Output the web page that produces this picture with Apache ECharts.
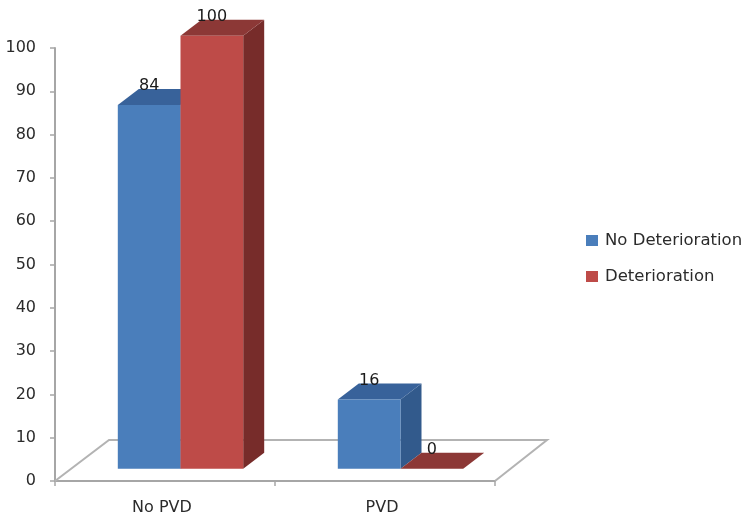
<!DOCTYPE html>
<html>
<head>
<meta charset="utf-8">
<style>
  html, body { margin: 0; padding: 0; background: #fff; }
  #chart { width: 750px; height: 522px; }
</style>
<script src="https://cdn.jsdelivr.net/npm/echarts@6/dist/echarts.min.js"></script>
</head>
<body>
<div id="chart"></div>
<script>
const CATEGORIES = ['No PVD', 'PVD'];
const NO_DETERIORATION = [84, 16];
const DETERIORATION = [100, 0];
const Y_MAX = 100;
const Y_STEP = 10;

const FONT = '"DejaVu Sans", sans-serif';
const AXIS_GRAY = '#a6a6a6';
const TEXT_COLOR = '#2b2b2b';

const myChart = echarts.init(document.getElementById('chart'));

// fake 3d: how far the bars sit in from the axis and how deep they are
const SHIFT_X = 15.5;
const SHIFT_Y = -12.3;
const DEPTH_X = 21;
const DEPTH_Y = -16;
const FLOOR_X = 54;
const FLOOR_Y = -41;

function poly(points, fill) {
  return {
    type: 'polygon',
    shape: { points: points },
    style: { fill: fill, stroke: null }
  };
}

// side: 0 draws left of the category centre, 1 right of it
function barItem(side, front, right, top) {
  return function (params, api) {
    const value = api.value(1);
    const base = api.coord([api.value(0), 0]);
    const head = api.coord([api.value(0), value]);
    const w = api.size([1, 0])[0] * 0.285;
    const x0 = base[0] + SHIFT_X + (side - 1) * w;
    const x1 = x0 + w;
    const y0 = base[1] + SHIFT_Y;
    const y1 = head[1] + SHIFT_Y;
    return {
      type: 'group',
      children: [
        poly([[x1, y0], [x1 + DEPTH_X, y0 + DEPTH_Y], [x1 + DEPTH_X, y1 + DEPTH_Y], [x1, y1]], right),
        poly([[x0, y1], [x0 + DEPTH_X, y1 + DEPTH_Y], [x1 + DEPTH_X, y1 + DEPTH_Y], [x1, y1]], top),
        poly([[x0, y0], [x1, y0], [x1, y1], [x0, y1]], front),
        {
          type: 'text',
          z2: 10,
          style: {
            x: (x0 + x1) / 2,
            y: y1 - 19,
            text: String(value),
            fill: '#1a1a1a',
            font: '16px ' + FONT,
            align: 'center',
            verticalAlign: 'middle'
          }
        }
      ]
    };
  };
}

function floorItem(params) {
  const g = params.coordSys;
  const yb = g.y + g.height;
  return {
    type: 'polyline',
    shape: {
      points: [
        [g.x, yb],
        [g.x + FLOOR_X, yb + FLOOR_Y],
        [g.x + g.width + FLOOR_X - 2, yb + FLOOR_Y],
        [g.x + g.width, yb]
      ]
    },
    style: { fill: null, stroke: '#b3b3b3', lineWidth: 2 }
  };
}

myChart.setOption({
  backgroundColor: '#fff',
  animation: false,
  grid: { left: 55, right: 255, top: 48, bottom: 41 },
  legend: {
    orient: 'vertical',
    left: 581,
    top: 227,
    icon: 'rect',
    itemWidth: 12,
    itemHeight: 11,
    itemGap: 19,
    data: ['No Deterioration', 'Deterioration'],
    textStyle: { fontFamily: FONT, fontSize: 16.5, color: TEXT_COLOR, padding: [0, 0, 0, 2] }
  },
  xAxis: {
    type: 'category',
    data: CATEGORIES,
    axisLine: { lineStyle: { color: AXIS_GRAY, width: 2 } },
    axisTick: { show: true, length: 5, lineStyle: { color: AXIS_GRAY, width: 1.5 } },
    axisLabel: { fontFamily: FONT, fontSize: 16, color: TEXT_COLOR, margin: 19, padding: [0, 6, 0, 0] }
  },
  yAxis: {
    type: 'value',
    min: 0,
    max: Y_MAX,
    interval: Y_STEP,
    splitLine: { show: false },
    axisLine: { show: true, lineStyle: { color: AXIS_GRAY, width: 2 } },
    axisTick: { show: true, length: 5, lineStyle: { color: AXIS_GRAY, width: 1.5 } },
    axisLabel: { fontFamily: FONT, fontSize: 16, color: TEXT_COLOR, margin: 19 }
  },
  series: [
    {
      name: 'floor',
      type: 'custom',
      silent: true,
      z: 1,
      data: [[0, 0]],
      renderItem: floorItem
    },
    {
      name: 'No Deterioration',
      type: 'custom',
      z: 2,
      itemStyle: { color: '#4a7ebb' },
      data: NO_DETERIORATION.map(function (v, i) { return [i, v]; }),
      renderItem: barItem(0, '#4a7ebb', '#325a8c', '#38629a')
    },
    {
      name: 'Deterioration',
      type: 'custom',
      z: 3,
      itemStyle: { color: '#be4b48' },
      data: DETERIORATION.map(function (v, i) { return [i, v]; }),
      renderItem: barItem(1, '#be4b48', '#772c2a', '#8c3836')
    }
  ]
});
</script>
</body>
</html>
